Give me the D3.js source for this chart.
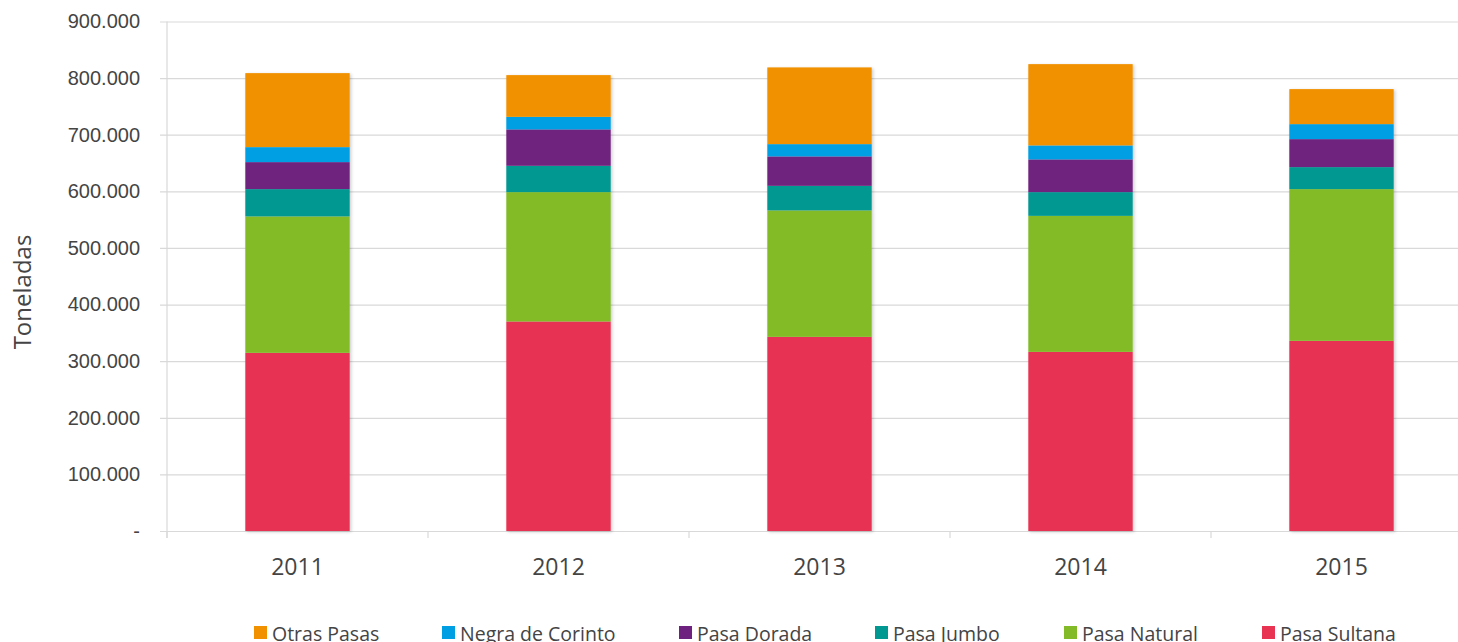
<!DOCTYPE html>
<html>
<head>
<meta charset="utf-8">
<script src="https://cdn.jsdelivr.net/npm/d3@7"></script>
<style>
  html, body { margin: 0; padding: 0; background: #fff; }
  svg { display: block; font-family: "Open Sans", "Noto Sans", sans-serif; }
</style>
</head>
<body>
<svg id="chart" width="1458" height="642"></svg>
<script>
// Raisin production by type, tonnes
const years = ["2011", "2012", "2013", "2014", "2015"];
const seriesNames = ["Pasa Sultana", "Pasa Natural", "Pasa Jumbo", "Pasa Dorada", "Negra de Corinto", "Otras Pasas"];
const pasaSultana    = [314700, 370100, 342900, 316400, 335900];
const pasaNatural    = [241000, 228500, 223400, 240300, 268000];
const pasaJumbo      = [48200, 46500, 43400, 41900, 38900];
const pasaDorada     = [47700, 64300, 52000, 57800, 49400];
const negraCorinto   = [26500, 22200, 21700, 24700, 26500];
const otrasPasas     = [130700, 73700, 135500, 143600, 61900];
const yTicks = [0, 100000, 200000, 300000, 400000, 500000, 600000, 700000, 800000, 900000];
const legendOrder = ["Otras Pasas", "Negra de Corinto", "Pasa Dorada", "Pasa Jumbo", "Pasa Natural", "Pasa Sultana"];
const colors = {
  "Pasa Sultana": "#E83352",
  "Pasa Natural": "#82BB27",
  "Pasa Jumbo": "#009891",
  "Pasa Dorada": "#6F217F",
  "Negra de Corinto": "#009FE3",
  "Otras Pasas": "#F29100"
};
const textColor = "#444444";
const gridColor = "#d9d9d9";

const valuesBySeries = {
  "Pasa Sultana": pasaSultana,
  "Pasa Natural": pasaNatural,
  "Pasa Jumbo": pasaJumbo,
  "Pasa Dorada": pasaDorada,
  "Negra de Corinto": negraCorinto,
  "Otras Pasas": otrasPasas
};
const table = years.map((yr, i) => {
  const row = { year: yr };
  seriesNames.forEach(s => { row[s] = valuesBySeries[s][i]; });
  return row;
});

const svg = d3.select("#chart");
const plotLeft = 167, plotRight = 1472, plotTop = 21.5, plotBottom = 531;

const x = d3.scaleBand().domain(years).range([plotLeft, plotRight]).paddingInner(0.6).paddingOuter(0.3);
const y = d3.scaleLinear().domain([0, 900000]).range([plotBottom, plotTop]);

const fmt = v => v === 0 ? "-" : d3.format(",.0f")(v).replace(/,/g, ".");

// gridlines + y labels
const yAxis = d3.axisLeft(y).tickValues(yTicks).tickSize(-(1458 - plotLeft + 10)).tickFormat(fmt).tickPadding(20);
const gy = svg.append("g").attr("transform", `translate(${plotLeft},0)`).call(yAxis);
gy.select(".domain").remove();
gy.selectAll(".tick line").attr("stroke", gridColor).attr("stroke-width", 1.2).attr("x1", -7);
gy.selectAll(".tick text").attr("fill", textColor).style("font-size", "20px").attr("x", -27);

// vertical axis line
svg.append("line").attr("x1", plotLeft).attr("x2", plotLeft).attr("y1", plotTop).attr("y2", plotBottom + 7)
  .attr("stroke", gridColor).attr("stroke-width", 1.2);

// category tick marks on the bottom axis
const step = x.step();
const boundaries = d3.range(0, years.length + 1).map(i => plotLeft + i * step);
svg.append("g").selectAll("line").data(boundaries).join("line")
  .attr("x1", d => d).attr("x2", d => d).attr("y1", plotBottom).attr("y2", plotBottom + 7)
  .attr("stroke", gridColor).attr("stroke-width", 1.2);

// x labels
svg.append("g").selectAll("text").data(years).join("text")
  .attr("x", d => x(d) + x.bandwidth() / 2).attr("y", 575)
  .attr("text-anchor", "middle").attr("fill", textColor).style("font-size", "23px")
  .text(d => d);

// y axis title
svg.append("text").attr("transform", "translate(31,292) rotate(-90)")
  .attr("text-anchor", "middle").attr("fill", textColor).style("font-size", "24px")
  .text("Toneladas");

// soft shadow behind the bars
const defs = svg.append("defs");
const f = defs.append("filter").attr("id", "shadow").attr("x", "-10%").attr("y", "-5%").attr("width", "130%").attr("height", "115%");
f.append("feDropShadow").attr("dx", 1.5).attr("dy", 1).attr("stdDeviation", 1.5)
  .attr("flood-color", "#000").attr("flood-opacity", 0.2);

const stack = d3.stack().keys(seriesNames)(table);
const barsG = svg.append("g").attr("filter", "url(#shadow)");
barsG.selectAll("g").data(stack).join("g")
  .attr("fill", d => colors[d.key])
  .selectAll("rect").data(d => d).join("rect")
  .attr("x", d => x(d.data.year))
  .attr("width", x.bandwidth())
  .attr("y", d => y(d[1]))
  .attr("height", d => y(d[0]) - y(d[1]));

// legend
const legendX = [254, 442, 679, 875, 1064, 1262];
const lg = svg.append("g");
legendOrder.forEach((name, i) => {
  const g = lg.append("g").attr("transform", `translate(${legendX[i]},0)`);
  g.append("rect").attr("x", 0).attr("y", 626).attr("width", 13).attr("height", 13).attr("fill", colors[name]);
  g.append("text").attr("x", 18).attr("y", 641).attr("fill", textColor).style("font-size", "19.5px").text(name);
});
</script>
</body>
</html>
